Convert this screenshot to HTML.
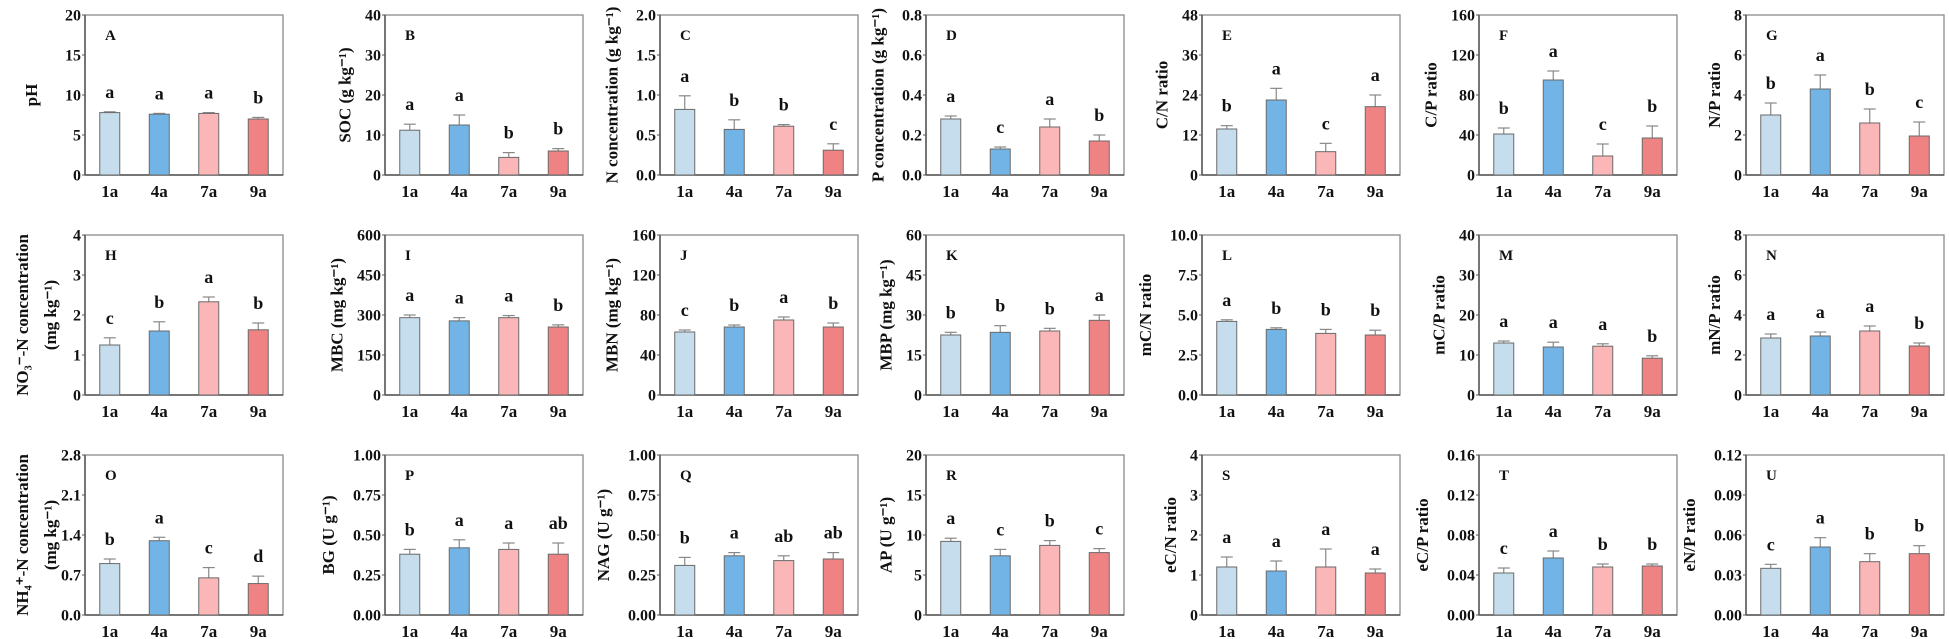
<!DOCTYPE html>
<html><head><meta charset="utf-8">
<style>
html,body{margin:0;padding:0;background:#fff;}
svg{display:block;font-family:"Liberation Serif",serif;font-weight:bold;}
</style></head>
<body>
<svg id="fig" width="1949" height="639" viewBox="0 0 1949 639" xmlns="http://www.w3.org/2000/svg"></svg>
<script>
// ---- data ----
const categories = ["1a","4a","7a","9a"];
const panelIds = ["A","B","C","D","E","F","G","H","I","J","K","L","M","N","O","P","Q","R","S","T","U"];
const yTitles = [
 ["pH"],["SOC (g kg⁻¹)"],["N concentration (g kg⁻¹)"],["P concentration (g kg⁻¹)"],["C/N ratio"],["C/P ratio"],["N/P ratio"],
 ["NO₃⁻-N concentration","(mg kg⁻¹)"],["MBC (mg kg⁻¹)"],["MBN (mg kg⁻¹)"],["MBP (mg kg⁻¹)"],["mC/N ratio"],["mC/P ratio"],["mN/P ratio"],
 ["NH₄⁺-N concentration","(mg kg⁻¹)"],["BG (U g⁻¹)"],["NAG (U g⁻¹)"],["AP (U g⁻¹)"],["eC/N ratio"],["eC/P ratio"],["eN/P ratio"]
];
const yTicks = [
 ["0","5","10","15","20"],["0","10","20","30","40"],["0.0","0.5","1.0","1.5","2.0"],["0.0","0.2","0.4","0.6","0.8"],["0","12","24","36","48"],["0","40","80","120","160"],["0","2","4","6","8"],
 ["0","1","2","3","4"],["0","150","300","450","600"],["0","40","80","120","160"],["0","15","30","45","60"],["0.0","2.5","5.0","7.5","10.0"],["0","10","20","30","40"],["0","2","4","6","8"],
 ["0.0","0.7","1.4","2.1","2.8"],["0.00","0.25","0.50","0.75","1.00"],["0.00","0.25","0.50","0.75","1.00"],["0","5","10","15","20"],["0","1","2","3","4"],["0.00","0.04","0.08","0.12","0.16"],["0.00","0.03","0.06","0.09","0.12"]
];
const means = [
 [7.8,7.6,7.7,7.0],[11.2,12.5,4.4,6.0],[0.82,0.57,0.61,0.31],[0.28,0.13,0.24,0.17],[13.8,22.5,7.0,20.5],[41,95,19,37],[3.0,4.3,2.6,1.95],
 [1.25,1.6,2.33,1.63],[290,278,290,255],[63,68,75,68],[22.5,23.5,24,28],[4.6,4.1,3.85,3.75],[13,12,12.2,9.2],[2.85,2.95,3.2,2.45],
 [0.9,1.3,0.65,0.55],[0.38,0.42,0.41,0.38],[0.31,0.37,0.34,0.35],[9.2,7.4,8.7,7.8],[1.2,1.1,1.2,1.05],[0.042,0.057,0.048,0.049],[0.035,0.051,0.04,0.046]
];
const errors = [
 [0.1,0.1,0.1,0.2],[1.5,2.5,1.2,0.6],[0.17,0.12,0.02,0.08],[0.015,0.01,0.04,0.03],[1,3.5,2.5,3.5],[6,9,12,12],[0.6,0.7,0.7,0.7],
 [0.18,0.23,0.12,0.17],[10,12,8,8],[2,2,3,4],[1,2.5,1,2],[0.1,0.1,0.25,0.3],[0.5,1.2,0.6,0.6],[0.2,0.2,0.25,0.15],
 [0.08,0.06,0.18,0.13],[0.03,0.05,0.04,0.07],[0.05,0.02,0.03,0.04],[0.4,0.8,0.6,0.5],[0.25,0.25,0.45,0.1],[0.005,0.007,0.003,0.002],[0.003,0.007,0.006,0.006]
];
const sigLetters = [
 ["a","a","a","b"],["a","a","b","b"],["a","b","b","c"],["a","c","a","b"],["b","a","c","a"],["b","a","c","b"],["b","a","b","c"],
 ["c","b","a","b"],["a","a","a","b"],["c","b","a","b"],["b","b","b","a"],["a","b","b","b"],["a","a","a","b"],["a","a","a","b"],
 ["b","a","c","d"],["b","a","a","ab"],["b","a","ab","ab"],["a","c","b","c"],["a","a","a","a"],["c","a","b","b"],["c","a","b","b"]
];
// ---- layout ----
const colors = ["#c6ddee","#72b4e6","#fbb6b7","#ef8283"];
const colLeft = [85,385,660,926,1202,1479,1746];
const rowTop = [15,235,455];
const boxW = 198, boxH = 160;
const NS = "http://www.w3.org/2000/svg";
const svg = document.getElementById("fig");
function mk(tag, attrs, parent){
  const e = document.createElementNS(NS, tag);
  for (const k in attrs) e.setAttribute(k, attrs[k]);
  (parent||svg).appendChild(e);
  return e;
}
panelIds.forEach((pid, p) => {
  const r = Math.floor(p/7), c = p%7;
  const x0 = colLeft[c], y0 = rowTop[r];
  const g = mk("g", {});
  
  
  const ticks = yTicks[p];
  const yMax = parseFloat(ticks[ticks.length-1]);
  const yScale = v => y0 + boxH - v / yMax * boxH;
  const xScale = i => x0 + (i + 0.5) * boxW / categories.length;
  const fr = mk("rect", {x:x0, y:y0, width:boxW, height:boxH, fill:"none", stroke:"#8a8a8a", "stroke-width":1.3}, g);
  
  
  mk("line", {x1:x0, y1:y0, x2:x0, y2:y0+boxH, stroke:"#555", "stroke-width":1.5}, g);
  mk("line", {x1:x0, y1:y0+boxH, x2:x0+boxW, y2:y0+boxH, stroke:"#555", "stroke-width":1.5}, g);
  ticks.forEach((t, k) => {
    const v = parseFloat(t), yy = yScale(v);
    mk("line", {x1:x0-3, y1:yy, x2:x0, y2:yy, stroke:"#555", "stroke-width":1}, g);
    const tl = mk("text", {x:x0-4, y:yy+5.5, "text-anchor":"end", "font-size":16, fill:"#111"}, g);
    tl.textContent = t;
    
    
  });
  const lines = yTitles[p];
  const maxLen = Math.max(...ticks.map(t => t.length));
  let tx = c === 0 ? 31 : x0 - 10 - maxLen*8.2 - 14;
  const cy = y0 + boxH/2;
  lines.forEach((ln, li) => {
    const xx = lines.length === 2 ? (c===0 ? 22 + li*28 : tx - 13 + li*26) : tx;
    const tt = mk("text", {x:xx, y:cy, "text-anchor":"middle", "font-size":17, fill:"#111", transform:`rotate(-90 ${xx} ${cy})`, dy:"6"}, g);
    tt.textContent = ln;
    
    
  });
  const pl = mk("text", {x:x0+20, y:y0+25, "font-size":15, fill:"#111"}, g);
  pl.textContent = pid;
  
  
  categories.forEach((cat, i) => {
    const cx = xScale(i), bw = 20;
    const m = means[p][i], e = errors[p][i];
    const yb = yScale(m), ye = yScale(m + e);
    mk("line", {x1:cx, y1:yb, x2:cx, y2:ye, stroke:"#888", "stroke-width":1.2}, g);
    mk("line", {x1:cx-6, y1:ye, x2:cx+6, y2:ye, stroke:"#888", "stroke-width":1.2}, g);
    const bar = mk("rect", {x:cx-bw/2, y:yb, width:bw, height:y0+boxH-yb, fill:colors[i], stroke:"#6a6a6a", "stroke-width":1}, g);
    
    
    const sl = mk("text", {x:cx, y:ye-14, "text-anchor":"middle", "font-size":18, fill:"#111"}, g);
    sl.textContent = sigLetters[p][i];
    
    
    const xl = mk("text", {x:cx, y:y0+boxH+22, "text-anchor":"middle", "font-size":17, fill:"#111"}, g);
    xl.textContent = cat;
    
    
  });
});
</script>
</body></html>
